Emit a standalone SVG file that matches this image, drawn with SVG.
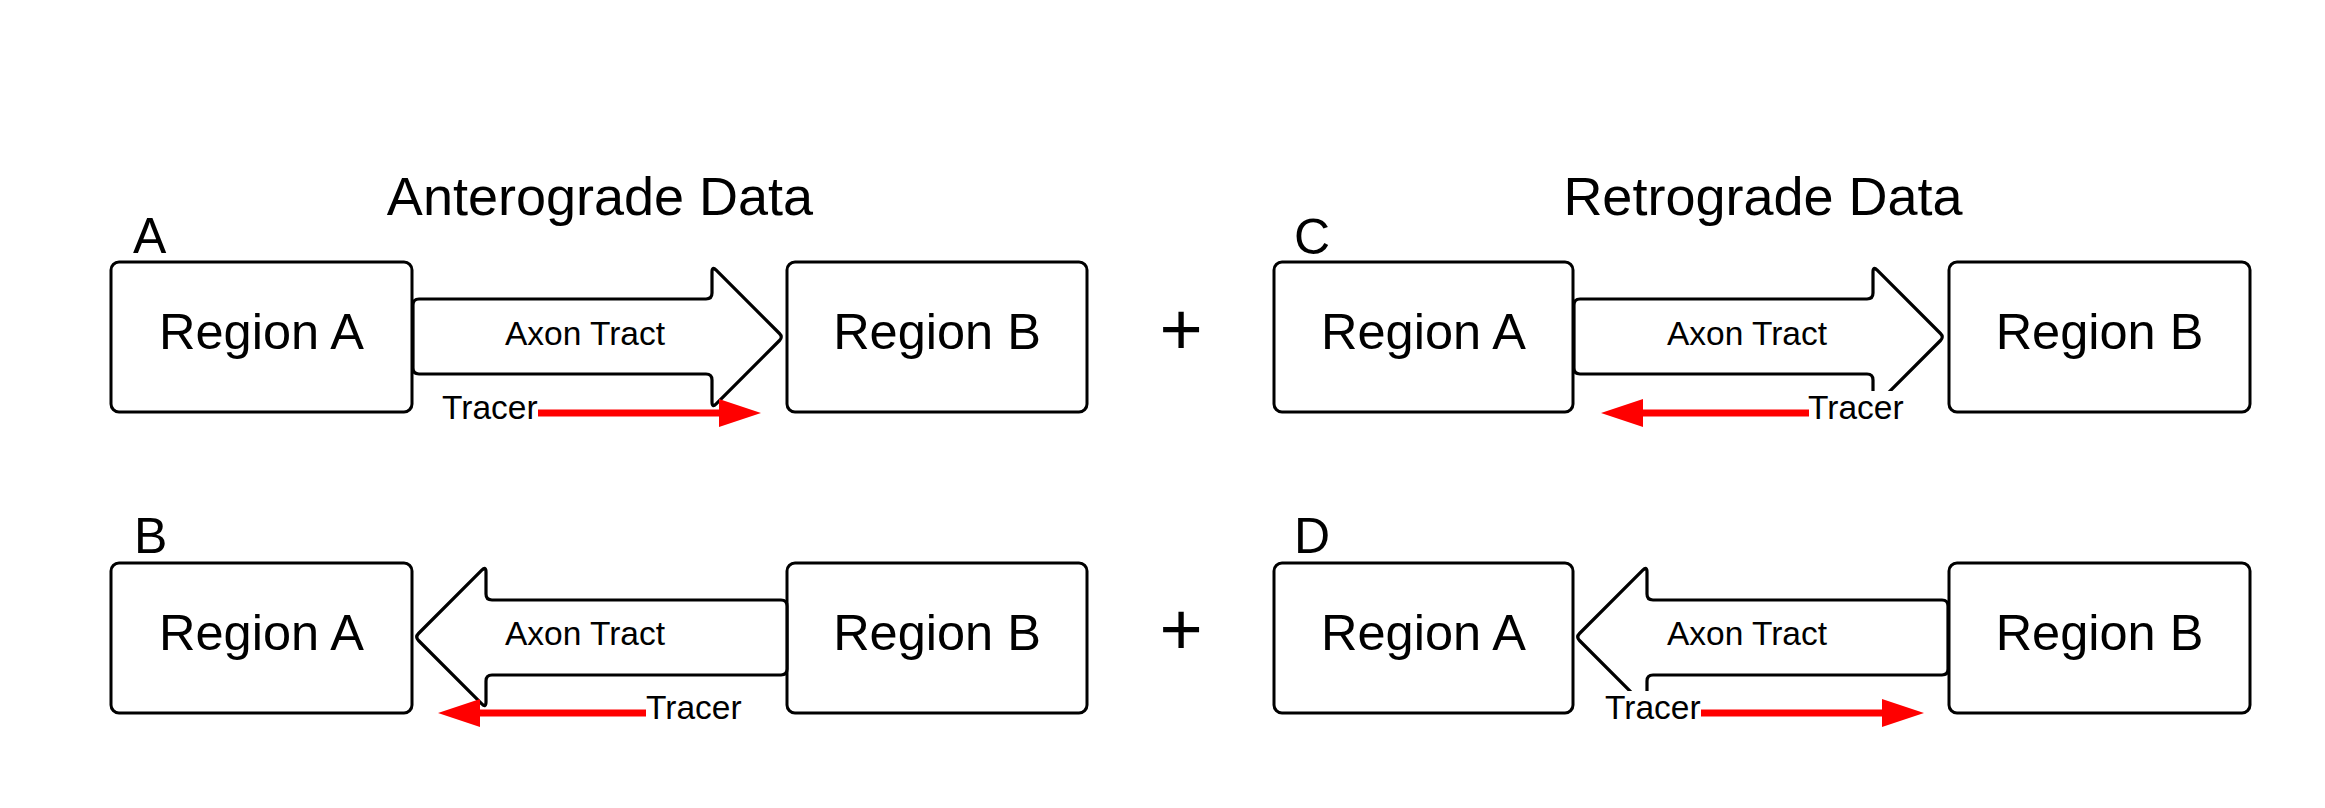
<svg xmlns="http://www.w3.org/2000/svg" width="2325" height="808" viewBox="0 0 2325 808">
  <defs>
    <style>
      text { font-family: "Liberation Sans", Arial, sans-serif; fill: #000; }
      .box { fill: #fff; stroke: #000; stroke-width: 3; }
      .tract { fill: #fff; stroke: #000; stroke-width: 3.2; stroke-linejoin: round; }
      .title { font-size: 54px; text-anchor: middle; }
      .letter { font-size: 50px; }
      .region { font-size: 50.5px; text-anchor: middle; }
      .axon { font-size: 33.5px; text-anchor: middle; }
      .tracer { font-size: 33.5px; }
      .plus { font-size: 74px; text-anchor: middle; }
      .bg { fill: #fff; stroke: none; }
      .red { stroke: #ff0000; stroke-width: 7; fill: none; marker-end: url(#head); }
    </style>
    <marker id="head" markerUnits="userSpaceOnUse" markerWidth="42" markerHeight="28" refX="0" refY="14" orient="auto" viewBox="0 0 42 28">
      <path d="M0,0 L42,14 L0,28 Z" fill="#ff0000"/>
    </marker>
    <path id="rightTract" d="M 419,299 H 706 Q 712,299 712,293 V 272 Q 712,266 716.2,270.2 L 779.5,333.5 Q 783,337 779.5,340.5 L 716.2,403.8 Q 712,408 712,402 V 380 Q 712,374 706,374 H 419 Q 413,374 413,368 V 305 Q 413,299 419,299 Z"/>
    <path id="leftTract" d="M 781,600 H 492 Q 486,600 486,594 V 572 Q 486,566 481.8,570.2 L 418.5,633.5 Q 415,637 418.5,640.5 L 481.8,703.8 Q 486,708 486,702 V 681 Q 486,675 492,675 H 781 Q 787,675 787,669 V 606 Q 787,600 781,600 Z"/>
  </defs>
  <rect width="2325" height="808" fill="#fff"/>

  <g id="titles">
    <text class="title" x="600" y="215">Anterograde Data</text>
    <text class="title" x="1763" y="215">Retrograde Data</text>
  </g>
  <g id="panel-letters">
    <text class="letter" x="133" y="253">A</text>
    <text class="letter" x="1294" y="254">C</text>
    <text class="letter" x="134" y="553">B</text>
    <text class="letter" x="1294" y="553">D</text>
  </g>
  <g id="plus-signs">
    <text class="plus" x="1181" y="355">+</text>
    <text class="plus" x="1181" y="655">+</text>
  </g>

  <!-- Panel A -->
  <g id="A-regionA"><rect class="box" x="111" y="262" width="301" height="150" rx="8"/><text class="region" x="261.5" y="349">Region A</text></g>
  <g id="A-regionB"><rect class="box" x="787" y="262" width="300" height="150" rx="8"/><text class="region" x="937" y="349">Region B</text></g>
  <g id="A-tract"><use href="#rightTract" class="tract"/><text class="axon" x="585" y="345">Axon Tract</text></g>

  <!-- Panel C -->
  <g id="C-regionA"><rect class="box" x="1274" y="262" width="299" height="150" rx="8"/><text class="region" x="1423.5" y="349">Region A</text></g>
  <g id="C-regionB"><rect class="box" x="1949" y="262" width="301" height="150" rx="8"/><text class="region" x="2099.5" y="349">Region B</text></g>
  <g id="C-tract"><use href="#rightTract" class="tract" transform="translate(1161,0)"/><text class="axon" x="1747" y="345">Axon Tract</text></g>

  <!-- Panel B -->
  <g id="B-regionA"><rect class="box" x="111" y="563" width="301" height="150" rx="8"/><text class="region" x="261.5" y="650">Region A</text></g>
  <g id="B-regionB"><rect class="box" x="787" y="563" width="300" height="150" rx="8"/><text class="region" x="937" y="650">Region B</text></g>
  <g id="B-tract"><use href="#leftTract" class="tract"/><text class="axon" x="585" y="645">Axon Tract</text></g>

  <!-- Panel D -->
  <g id="D-regionA"><rect class="box" x="1274" y="563" width="299" height="150" rx="8"/><text class="region" x="1423.5" y="650">Region A</text></g>
  <g id="D-regionB"><rect class="box" x="1949" y="563" width="301" height="150" rx="8"/><text class="region" x="2099.5" y="650">Region B</text></g>
  <g id="D-tract"><use href="#leftTract" class="tract" transform="translate(1161,0)"/><text class="axon" x="1747" y="645">Axon Tract</text></g>

  <g id="tracer-labels">
    <rect class="bg" x="1804" y="391" width="103" height="38"/>
    <rect class="bg" x="1601" y="691" width="103" height="38"/>
    <text class="tracer" x="442" y="419">Tracer</text>
    <text class="tracer" x="1808" y="419">Tracer</text>
    <text class="tracer" x="646" y="719">Tracer</text>
    <text class="tracer" x="1605" y="719">Tracer</text>
  </g>

  <g id="connectors">
    <line class="red" x1="538" y1="413" x2="719" y2="413"/>
    <line class="red" x1="1809" y1="413" x2="1643" y2="413"/>
    <line class="red" x1="646" y1="713" x2="480" y2="713"/>
    <line class="red" x1="1701" y1="713" x2="1882" y2="713"/>
  </g>
</svg>
